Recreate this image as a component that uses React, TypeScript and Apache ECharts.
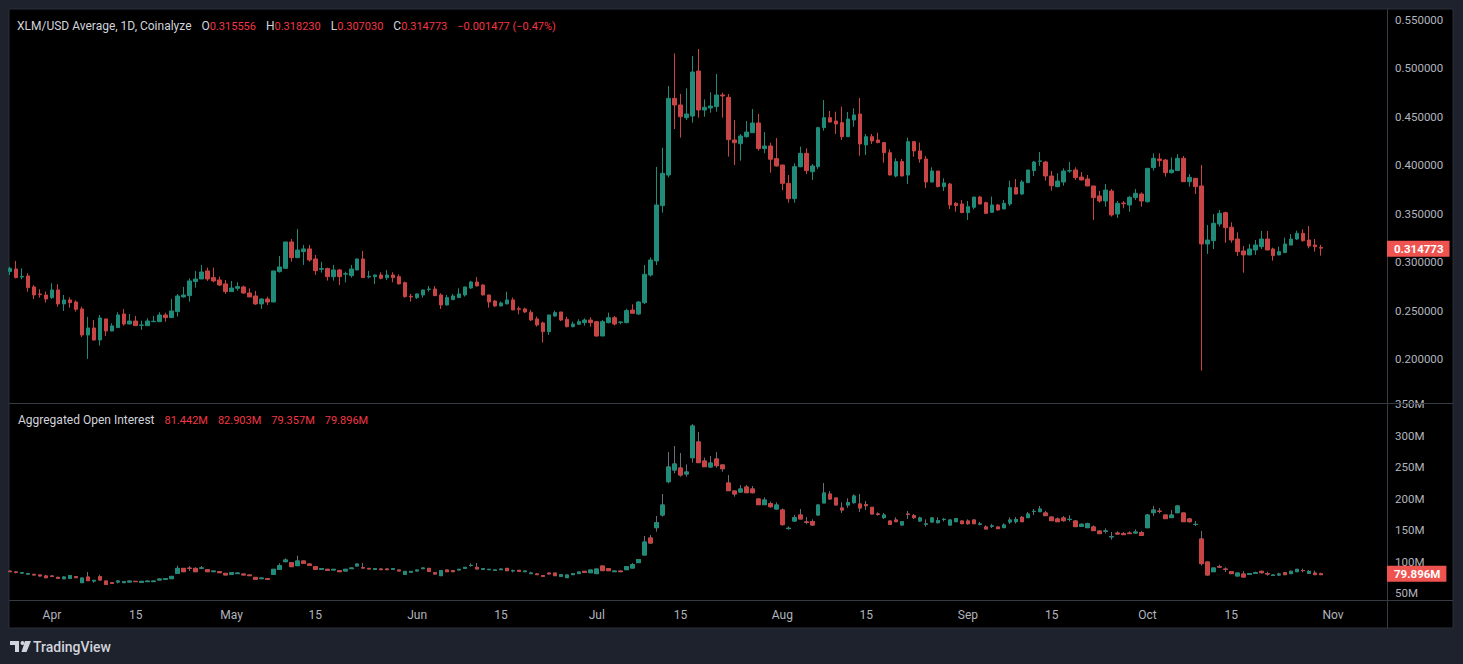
import React, { useEffect, useRef } from "react";
import * as echarts from "echarts";

// ---------- data ----------
const START_DATE = [2025, 2, 25]; // 25 Mar 2025 (UTC, month 0-based)
const END_DATE = [2025, 10, 10]; // 10 Nov 2025

// XLM/USD daily candles: [open, high, low, close]
const priceOHLC: number[][] = [
  [0.2906, 0.2957, 0.2871, 0.294], [0.2933, 0.3016, 0.2837, 0.2844], [0.285, 0.294, 0.2827, 0.2857],
  [0.2861, 0.2889, 0.27, 0.2741], [0.2748, 0.2768, 0.2624, 0.2665], [0.2675, 0.2724, 0.2638, 0.2668],
  [0.2665, 0.27, 0.2586, 0.2624], [0.2638, 0.2786, 0.2624, 0.2717], [0.2717, 0.2775, 0.2545, 0.2573],
  [0.2573, 0.2665, 0.25, 0.2614], [0.2614, 0.2641, 0.2535, 0.2586], [0.2593, 0.261, 0.2494, 0.2518],
  [0.2521, 0.2545, 0.2232, 0.2253], [0.2253, 0.2439, 0.2006, 0.2325], [0.2325, 0.2408, 0.2195, 0.2201],
  [0.2201, 0.2459, 0.2143, 0.2428], [0.2418, 0.2421, 0.2243, 0.2294], [0.2294, 0.2373, 0.229, 0.2346],
  [0.2329, 0.2487, 0.2325, 0.2459], [0.2469, 0.2521, 0.2349, 0.2366], [0.2366, 0.2469, 0.2363, 0.2397],
  [0.2397, 0.2449, 0.2346, 0.2349], [0.2352, 0.2401, 0.2305, 0.2356], [0.2349, 0.2425, 0.2346, 0.2397],
  [0.239, 0.2449, 0.2387, 0.2394], [0.239, 0.2487, 0.2387, 0.2459], [0.2459, 0.2483, 0.239, 0.2432],
  [0.2432, 0.2624, 0.2432, 0.25], [0.2494, 0.2676, 0.2442, 0.2655], [0.2645, 0.2748, 0.2638, 0.2665],
  [0.2658, 0.2837, 0.2597, 0.281], [0.2803, 0.2913, 0.2741, 0.283], [0.283, 0.2975, 0.283, 0.2902],
  [0.2913, 0.2947, 0.281, 0.283], [0.2844, 0.2947, 0.2796, 0.281], [0.282, 0.2854, 0.2758, 0.2768],
  [0.2779, 0.282, 0.2676, 0.27], [0.27, 0.281, 0.2697, 0.2737], [0.2734, 0.2796, 0.271, 0.2751],
  [0.2748, 0.2762, 0.2676, 0.2686], [0.2686, 0.2734, 0.2642, 0.2645], [0.2655, 0.2707, 0.2562, 0.2573],
  [0.2573, 0.2631, 0.2521, 0.2624], [0.2624, 0.2648, 0.2562, 0.2593], [0.2593, 0.2913, 0.259, 0.2913],
  [0.2906, 0.3067, 0.2896, 0.2954], [0.294, 0.3212, 0.2937, 0.3212], [0.3212, 0.3243, 0.3009, 0.305],
  [0.305, 0.3346, 0.3047, 0.3129], [0.3112, 0.3181, 0.2975, 0.314], [0.314, 0.3181, 0.3009, 0.3026],
  [0.3036, 0.3078, 0.2872, 0.2916], [0.293, 0.3006, 0.2896, 0.2937], [0.2937, 0.2947, 0.2813, 0.2854],
  [0.2854, 0.2975, 0.2813, 0.2923], [0.2923, 0.2933, 0.2768, 0.2854], [0.288, 0.2906, 0.2796, 0.2885],
  [0.2865, 0.2975, 0.2844, 0.2933], [0.2923, 0.3043, 0.292, 0.3036], [0.3036, 0.3119, 0.284, 0.2844],
  [0.2851, 0.2913, 0.2837, 0.2858], [0.2854, 0.2875, 0.2779, 0.2871], [0.2871, 0.2899, 0.2827, 0.2837],
  [0.2844, 0.2923, 0.282, 0.2871], [0.2871, 0.2899, 0.2796, 0.2844], [0.2854, 0.2878, 0.2775, 0.2779],
  [0.2792, 0.2803, 0.2638, 0.2648], [0.2652, 0.2676, 0.2597, 0.2645], [0.2638, 0.2683, 0.2624, 0.2676],
  [0.2665, 0.272, 0.2638, 0.2717], [0.2723, 0.2758, 0.27, 0.2727], [0.2727, 0.2758, 0.2655, 0.2658],
  [0.2665, 0.2683, 0.2521, 0.2562], [0.2562, 0.2665, 0.2559, 0.2638], [0.2617, 0.2676, 0.2614, 0.2655],
  [0.2638, 0.2734, 0.2635, 0.2676], [0.2665, 0.2751, 0.2648, 0.2748], [0.2737, 0.281, 0.2727, 0.2799],
  [0.2799, 0.2851, 0.2755, 0.2758], [0.2768, 0.2775, 0.2662, 0.2665], [0.2665, 0.2668, 0.2535, 0.2593],
  [0.2603, 0.2614, 0.2542, 0.2552], [0.2552, 0.2597, 0.2549, 0.2583], [0.2573, 0.27, 0.257, 0.2614],
  [0.2614, 0.2638, 0.2508, 0.2511], [0.2524, 0.2545, 0.2466, 0.2518], [0.2521, 0.2535, 0.248, 0.249],
  [0.2487, 0.2511, 0.2397, 0.2408], [0.2418, 0.2442, 0.2339, 0.2356], [0.2377, 0.239, 0.2174, 0.2287],
  [0.2287, 0.2459, 0.2253, 0.2459], [0.2448, 0.2504, 0.2441, 0.2483], [0.249, 0.249, 0.2397, 0.2407],
  [0.2414, 0.2441, 0.2332, 0.2338], [0.2338, 0.239, 0.2332, 0.2366], [0.2363, 0.2414, 0.2356, 0.239],
  [0.238, 0.2424, 0.2349, 0.2407], [0.2407, 0.2435, 0.2338, 0.238], [0.239, 0.2397, 0.2236, 0.2242],
  [0.2242, 0.2407, 0.2242, 0.239], [0.238, 0.2483, 0.2373, 0.2431], [0.2431, 0.2448, 0.2349, 0.2366],
  [0.2383, 0.239, 0.2363, 0.2387], [0.238, 0.2524, 0.2373, 0.2504], [0.251, 0.2569, 0.2476, 0.2476],
  [0.2469, 0.2603, 0.2459, 0.2593], [0.2586, 0.2974, 0.2572, 0.2878], [0.2871, 0.3053, 0.2854, 0.3026],
  [0.3016, 0.3985, 0.2974, 0.3593], [0.3586, 0.4184, 0.3514, 0.3919], [0.3902, 0.482, 0.3878, 0.4692],
  [0.4692, 0.5156, 0.4376, 0.4624], [0.4624, 0.4737, 0.4287, 0.4503], [0.4493, 0.4796, 0.4469, 0.4531],
  [0.451, 0.5129, 0.4442, 0.4964], [0.4974, 0.5201, 0.4493, 0.4572], [0.4572, 0.4682, 0.4503, 0.46],
  [0.4593, 0.4754, 0.4544, 0.4613], [0.4607, 0.4943, 0.4555, 0.4727], [0.4727, 0.4751, 0.4493, 0.4717],
  [0.4703, 0.4737, 0.4091, 0.4266], [0.4263, 0.4469, 0.4005, 0.4235], [0.4225, 0.4325, 0.405, 0.4304],
  [0.4297, 0.4459, 0.4287, 0.4345], [0.4338, 0.4582, 0.4338, 0.4438], [0.4438, 0.4531, 0.4153, 0.4174],
  [0.4174, 0.4345, 0.4126, 0.4201], [0.4201, 0.4235, 0.3926, 0.4064], [0.4071, 0.4283, 0.3988, 0.3995],
  [0.4005, 0.4005, 0.3747, 0.3816], [0.3816, 0.3902, 0.3617, 0.3658], [0.3658, 0.4023, 0.3617, 0.3988],
  [0.3988, 0.4194, 0.3981, 0.4125], [0.4125, 0.4177, 0.3912, 0.3947], [0.3936, 0.4016, 0.3851, 0.3995],
  [0.3988, 0.44, 0.3964, 0.439], [0.439, 0.4675, 0.4359, 0.4493], [0.4493, 0.4562, 0.4445, 0.4448],
  [0.4459, 0.4555, 0.4325, 0.4428], [0.4442, 0.4607, 0.4263, 0.4297], [0.4297, 0.4552, 0.4294, 0.4479],
  [0.4469, 0.4589, 0.44, 0.4521], [0.4531, 0.4696, 0.4101, 0.4222], [0.4212, 0.4325, 0.4108, 0.4297],
  [0.4297, 0.4325, 0.4222, 0.4253], [0.4263, 0.4339, 0.4229, 0.4236], [0.4236, 0.4236, 0.4029, 0.4132],
  [0.4132, 0.4167, 0.3898, 0.3902], [0.3892, 0.4074, 0.3878, 0.404], [0.404, 0.4067, 0.3888, 0.3892],
  [0.3902, 0.4287, 0.3809, 0.4246], [0.4246, 0.425, 0.4091, 0.415], [0.415, 0.4236, 0.4029, 0.4067],
  [0.4067, 0.4098, 0.3768, 0.383], [0.383, 0.3981, 0.3823, 0.3943], [0.3943, 0.3943, 0.3775, 0.3782],
  [0.3782, 0.3868, 0.3737, 0.382], [0.3809, 0.382, 0.3552, 0.3593], [0.361, 0.3624, 0.3524, 0.3586],
  [0.3603, 0.3644, 0.3512, 0.3514], [0.3514, 0.3634, 0.3438, 0.3576], [0.3569, 0.3675, 0.3548, 0.3675],
  [0.3675, 0.3686, 0.36, 0.3603], [0.3617, 0.3627, 0.35, 0.3507], [0.3517, 0.3679, 0.3514, 0.3593],
  [0.3593, 0.3603, 0.3534, 0.3541], [0.3552, 0.3644, 0.3548, 0.361], [0.3603, 0.3844, 0.3582, 0.3772],
  [0.3772, 0.3861, 0.3703, 0.3706], [0.3706, 0.3851, 0.3696, 0.383], [0.3823, 0.3954, 0.382, 0.3954],
  [0.3947, 0.4047, 0.3892, 0.4036], [0.4043, 0.4139, 0.3995, 0.4047], [0.4036, 0.4047, 0.3844, 0.3892],
  [0.3892, 0.3943, 0.3741, 0.3792], [0.3782, 0.3919, 0.3775, 0.384], [0.383, 0.3971, 0.3792, 0.3943],
  [0.3943, 0.4036, 0.3926, 0.3947], [0.3954, 0.3981, 0.3851, 0.3875], [0.3881, 0.3933, 0.3847, 0.3851],
  [0.3861, 0.3902, 0.3786, 0.3789], [0.3789, 0.3789, 0.3438, 0.3669], [0.3686, 0.3737, 0.3617, 0.3634],
  [0.3634, 0.3809, 0.3576, 0.3747], [0.3737, 0.3758, 0.3473, 0.349], [0.35, 0.3634, 0.3459, 0.361],
  [0.3613, 0.3634, 0.3558, 0.3606], [0.3593, 0.3686, 0.3524, 0.3672], [0.3669, 0.3758, 0.3644, 0.3713],
  [0.3706, 0.3723, 0.3576, 0.3634], [0.3627, 0.3971, 0.3617, 0.3971], [0.3978, 0.4125, 0.3947, 0.4074],
  [0.4067, 0.4125, 0.3988, 0.405], [0.4057, 0.4067, 0.3885, 0.3926], [0.3926, 0.4084, 0.3919, 0.3954],
  [0.3947, 0.4118, 0.3947, 0.4074], [0.4074, 0.4098, 0.3833, 0.3833], [0.3833, 0.3912, 0.3782, 0.3878],
  [0.3868, 0.3868, 0.3706, 0.3782], [0.3789, 0.4005, 0.1885, 0.3191], [0.3191, 0.3387, 0.3088, 0.3232],
  [0.3225, 0.35, 0.3139, 0.3404], [0.3397, 0.3541, 0.337, 0.3507], [0.3514, 0.3524, 0.3204, 0.3359],
  [0.3363, 0.3414, 0.3204, 0.3232], [0.3242, 0.3311, 0.3067, 0.3112], [0.3119, 0.317, 0.2895, 0.3078],
  [0.3078, 0.3191, 0.3075, 0.3139], [0.3129, 0.3232, 0.3078, 0.318], [0.3163, 0.3325, 0.3139, 0.3242],
  [0.3242, 0.3325, 0.3126, 0.3129], [0.3139, 0.3153, 0.3019, 0.3071], [0.3078, 0.3163, 0.3075, 0.3112],
  [0.3102, 0.3256, 0.31, 0.3191], [0.318, 0.3294, 0.3177, 0.3242], [0.3242, 0.3328, 0.3232, 0.3301],
  [0.3301, 0.3342, 0.3215, 0.3225], [0.3232, 0.3376, 0.3146, 0.317], [0.318, 0.3242, 0.3112, 0.31625],
  [0.315556, 0.31823, 0.30703, 0.314773],
];

// Aggregated open interest, millions: [open, high, low, close]
const oiOHLC: number[][] = [
  [85.5, 86.0, 84.4, 84.6], [84.1, 85.5, 82.0, 83.6], [82.5, 83.6, 81.5, 83.0], [80.9, 83.0, 79.9, 81.5],
  [80.4, 81.0, 78.8, 79.4], [79.4, 79.9, 77.2, 77.8], [77.8, 79.4, 74.1, 75.1], [77.8, 78.3, 76.7, 77.2],
  [75.6, 76.7, 73.5, 74.1], [73.4, 77.0, 73.0, 76.2], [74.1, 78.8, 73.8, 78.3], [76.7, 77.2, 74.6, 75.1],
  [67.2, 74.8, 67.0, 74.6], [76.2, 84.1, 70.0, 70.4], [69.8, 71.4, 67.2, 70.9], [76.7, 79.9, 71.0, 71.4],
  [69.8, 70.2, 64.3, 64.5], [67.2, 67.7, 65.8, 66.1], [68.2, 71.4, 66.1, 69.8], [67.2, 69.3, 66.6, 68.8],
  [68.2, 70.4, 67.7, 69.8], [69.3, 69.8, 68.2, 68.8], [67.7, 69.8, 67.2, 69.3], [68.8, 70.0, 68.5, 69.8],
  [68.8, 70.0, 68.5, 69.8], [71.4, 73.5, 71.0, 73.0], [72.5, 74.1, 72.0, 73.5], [73.5, 77.5, 73.0, 77.2],
  [82.0, 94.2, 81.8, 89.9], [89.9, 90.4, 84.4, 84.6], [90.2, 93.6, 85.7, 89.9], [89.9, 91.5, 84.1, 84.6],
  [90.2, 93.6, 88.4, 90.5], [87.8, 88.4, 84.4, 84.6], [84.6, 85.7, 84.1, 85.7], [84.6, 85.1, 82.5, 83.0],
  [82.0, 82.5, 79.2, 79.4], [80.4, 83.6, 80.0, 83.0], [81.5, 83.6, 81.2, 82.5], [80.9, 81.2, 79.2, 79.4],
  [79.4, 79.9, 78.0, 78.3], [75.6, 76.2, 72.2, 72.5], [73.5, 74.8, 73.0, 74.6], [73.5, 74.1, 72.2, 72.5],
  [80.4, 88.6, 80.0, 88.4], [88.4, 97.9, 87.8, 94.2], [100.5, 105.8, 99.5, 103.2], [98.9, 99.5, 92.3, 92.6],
  [94.2, 110.1, 94.0, 101.6], [101.6, 102.0, 97.6, 97.9], [96.8, 97.9, 94.4, 94.7], [92.6, 93.0, 88.0, 88.4],
  [88.4, 90.0, 88.0, 89.4], [88.4, 89.0, 86.5, 86.8], [87.3, 88.9, 87.0, 88.4], [86.2, 86.8, 84.4, 84.6],
  [85.7, 88.6, 85.5, 88.4], [89.4, 91.0, 89.0, 90.5], [93.6, 97.5, 93.3, 96.8], [91.0, 98.4, 89.4, 90.5],
  [89.9, 90.2, 88.6, 88.9], [88.4, 89.6, 88.0, 89.4], [88.9, 89.4, 87.5, 87.8], [88.9, 89.4, 87.5, 87.8],
  [88.4, 89.6, 88.0, 89.4], [87.3, 87.6, 85.5, 85.7], [80.4, 85.5, 80.0, 85.1], [83.6, 85.5, 83.3, 85.1],
  [85.7, 87.6, 85.5, 87.3], [89.4, 91.2, 89.0, 90.5], [89.9, 90.2, 84.9, 85.1], [83.0, 83.3, 80.7, 80.9],
  [78.3, 86.5, 78.0, 86.3], [87.3, 87.6, 84.4, 84.6], [86.2, 86.5, 84.4, 84.6], [87.3, 88.6, 87.0, 88.4],
  [89.9, 91.8, 89.6, 91.5], [94.4, 97.9, 92.6, 94.7], [91.5, 98.4, 88.6, 88.9], [88.4, 89.6, 88.0, 89.4],
  [87.8, 88.8, 87.5, 88.4], [86.8, 87.6, 86.5, 87.3], [87.8, 89.2, 87.5, 88.9], [89.9, 90.5, 86.0, 86.2],
  [86.0, 88.0, 83.6, 86.4], [86.8, 87.0, 85.0, 85.2], [84.6, 85.9, 84.4, 85.7], [81.5, 84.6, 81.0, 82.5],
  [81.0, 82.5, 79.4, 79.9], [78.3, 78.5, 77.0, 77.2], [82.5, 82.8, 80.8, 81.0], [82.5, 82.8, 78.0, 78.3],
  [77.2, 80.2, 77.0, 79.9], [75.1, 79.6, 74.8, 79.4], [79.9, 82.0, 79.6, 81.5], [81.5, 84.4, 81.2, 84.1],
  [85.2, 85.5, 83.4, 83.6], [83.0, 87.6, 82.8, 87.3], [81.5, 89.2, 81.2, 88.9], [93.6, 93.9, 86.0, 86.3],
  [89.4, 89.6, 86.0, 86.2], [84.6, 85.9, 84.4, 85.7], [85.7, 85.9, 84.4, 84.6], [87.8, 92.8, 87.5, 92.6],
  [90.4, 98.4, 90.2, 95.8], [99.0, 104.0, 98.8, 103.7], [111.1, 141.3, 110.8, 131.7], [138.1, 142.9, 129.0, 130.1],
  [154.5, 173.0, 148.1, 162.4], [174.6, 207.9, 172.0, 190.5], [227.5, 274.6, 224.9, 250.8], [246.0, 284.1, 240.7, 255.6],
  [249.2, 273.0, 235.4, 238.1], [239.7, 255.0, 235.4, 242.9], [265.6, 319.0, 257.7, 315.9], [290.5, 306.3, 257.7, 257.7],
  [260.3, 265.6, 251.0, 251.3], [250.8, 268.3, 249.7, 257.1], [263.5, 274.6, 249.7, 252.9], [254.0, 255.0, 243.4, 248.1],
  [225.4, 238.1, 213.0, 213.2], [212.7, 213.0, 203.7, 207.9], [211.1, 222.2, 210.0, 215.9], [219.0, 222.2, 209.8, 210.0],
  [215.9, 220.6, 209.0, 210.0], [200.0, 201.0, 190.8, 191.0], [191.0, 202.6, 190.5, 198.4], [192.6, 195.8, 186.2, 187.8],
  [184.1, 194.7, 183.1, 190.5], [182.5, 185.2, 157.7, 159.3], [153.0, 156.5, 151.3, 153.6], [165.1, 174.6, 164.0, 170.4],
  [174.6, 184.1, 168.0, 168.3], [163.5, 171.4, 159.8, 163.0], [164.0, 167.7, 157.7, 158.7], [174.6, 191.5, 173.5, 190.5],
  [193.7, 225.4, 193.5, 209.5], [207.9, 212.7, 199.0, 200.0], [201.6, 202.0, 190.2, 190.5], [185.7, 194.7, 177.8, 182.5],
  [190.5, 201.1, 186.2, 194.2], [194.2, 207.4, 192.6, 204.8], [192.1, 207.9, 179.4, 185.7], [191.0, 196.8, 182.5, 189.4],
  [186.8, 187.0, 176.0, 176.2], [176.2, 178.8, 173.5, 175.7], [170.4, 177.8, 168.3, 174.6], [165.1, 165.5, 159.5, 159.8],
  [166.7, 170.9, 163.8, 164.0], [158.7, 164.2, 158.5, 164.0], [176.0, 180.9, 168.3, 175.7], [173.6, 176.2, 168.3, 170.4],
  [165.1, 172.0, 163.5, 169.9], [160.0, 167.7, 156.1, 160.3], [163.5, 170.9, 162.4, 169.9], [162.4, 170.9, 161.4, 165.6],
  [167.4, 169.9, 164.5, 167.7], [158.7, 166.9, 158.5, 166.7], [164.0, 169.0, 163.8, 168.8], [165.1, 165.5, 160.5, 160.8],
  [165.1, 167.7, 159.3, 160.8], [166.7, 167.7, 160.5, 160.8], [160.0, 163.5, 158.2, 160.3], [155.6, 158.2, 152.2, 152.4],
  [156.9, 160.3, 154.0, 157.1], [155.6, 155.9, 152.6, 152.9], [154.5, 161.4, 154.3, 158.7], [163.5, 170.9, 160.3, 166.7],
  [164.0, 171.5, 161.0, 167.5], [170.9, 173.0, 163.5, 164.0], [170.4, 179.4, 169.9, 176.2], [180.2, 184.1, 174.6, 180.4],
  [179.9, 188.9, 179.6, 184.1], [177.8, 181.0, 173.4, 173.6], [171.4, 171.6, 165.4, 165.6], [168.3, 170.9, 163.5, 164.0],
  [169.9, 173.0, 164.0, 165.6], [167.5, 174.1, 164.5, 167.7], [165.1, 166.7, 155.9, 156.1], [156.6, 161.4, 156.1, 159.8],
  [154.5, 162.4, 154.3, 160.8], [155.6, 158.2, 149.6, 149.8], [149.2, 149.4, 144.8, 145.0], [149.0, 153.4, 145.5, 149.2],
  [140.0, 147.6, 135.4, 140.2], [146.0, 148.7, 143.4, 144.4], [145.0, 147.6, 143.2, 143.4], [146.0, 148.7, 144.8, 145.0],
  [146.0, 151.9, 145.0, 147.6], [146.6, 149.2, 142.0, 142.3], [154.5, 176.2, 153.5, 174.6], [178.3, 188.9, 173.0, 182.5],
  [180.6, 185.7, 177.3, 180.4], [174.6, 174.9, 168.5, 168.8], [170.4, 182.5, 170.2, 174.6], [178.3, 190.5, 177.2, 188.9],
  [177.8, 178.0, 163.8, 164.0], [168.3, 169.9, 162.4, 164.0], [159.5, 165.1, 157.1, 159.8], [136.5, 149.2, 94.2, 97.4],
  [100.0, 100.2, 78.3, 79.4], [84.6, 90.7, 84.4, 90.5], [92.3, 95.8, 90.5, 92.0], [88.6, 91.5, 84.1, 88.4],
  [84.6, 84.9, 81.3, 81.5], [77.8, 82.8, 77.6, 82.5], [80.9, 85.7, 75.7, 76.2], [80.4, 82.5, 80.2, 81.5],
  [82.0, 84.6, 81.0, 83.0], [85.2, 86.3, 81.8, 83.0], [81.5, 84.6, 78.3, 81.0], [78.8, 79.6, 78.6, 79.4],
  [79.4, 83.0, 77.8, 80.9], [83.0, 84.1, 79.2, 79.9], [81.5, 86.3, 81.0, 85.2], [84.6, 88.6, 84.4, 88.4],
  [86.5, 89.4, 83.6, 86.3], [82.0, 87.3, 81.5, 85.2], [82.5, 86.3, 79.9, 79.9], [81.442, 82.903, 79.357, 79.896],
];

const PRICE_TICKS = [0.2, 0.25, 0.3, 0.35, 0.4, 0.45, 0.5, 0.55];
const OI_TICKS = [50, 100, 150, 200, 250, 300, 350];
const MONTHS = ["Jan", "Feb", "Mar", "Apr", "May", "Jun", "Jul", "Aug", "Sep", "Oct", "Nov", "Dec"];

// ---------- style ----------
const UP = "#1f8b78";
const DOWN = "#c94444";
const TAG = "#ef5350";
const VALUE_RED = "#f23645";
const WICK_GREY = "#6b6e78";
const TEXT = "#d1d4dc";
const AXIS_TEXT = "#b2b5be";
const LINE = "#363a45";
const FONT = "Roboto, 'Noto Sans', sans-serif";

function buildDates(): string[] {
  const out: string[] = [];
  let t = Date.UTC(START_DATE[0], START_DATE[1], START_DATE[2]);
  const end = Date.UTC(END_DATE[0], END_DATE[1], END_DATE[2]);
  while (t <= end) {
    out.push(new Date(t).toISOString().slice(0, 10));
    t += 86400000;
  }
  return out;
}

const fmtSigned = (v: number, d: number) => (v < 0 ? "\u2212" : "+") + Math.abs(v).toFixed(d);

export default function App() {
  const ref = useRef<HTMLDivElement>(null);

  useEffect(() => {
    if (!ref.current) return;
    const chart = echarts.init(ref.current, undefined, { renderer: "svg" });
    const dates = buildDates();

    const priceData = priceOHLC.map(([o, h, l, c]) => [o, c, l, h]);
    const oiWick = oiOHLC.map(([o, h, l, c]) => [o, c, l, h]);
    const oiBody = oiOHLC.map(([o, , , c]) => [o, c, Math.min(o, c), Math.max(o, c)]);

    const last = priceOHLC[priceOHLC.length - 1];
    const prevClose = priceOHLC[priceOHLC.length - 2][3];
    const chg = last[3] - prevClose;
    const pct = (chg / prevClose) * 100;
    const lastOi = oiOHLC[oiOHLC.length - 1];

    const priceHeader =
      "{l|XLM/USD Average, 1D, Coinalyze}  " +
      `{l|O}{v|${last[0].toFixed(6)}}  {l|H}{v|${last[1].toFixed(6)}}  {l|L}{v|${last[2].toFixed(6)}}  {l|C}{v|${last[3].toFixed(6)}}  ` +
      `{v|${fmtSigned(chg, 6)} (${fmtSigned(pct, 2)}%)}`;
    const oiHeader =
      "{l|Aggregated Open Interest}  " +
      lastOi.map((v) => `{v|${v.toFixed(3)}M}`).join("  ");

    const rich = {
      l: { color: TEXT, fontSize: 12, fontFamily: FONT, fontWeight: "normal" },
      v: { color: VALUE_RED, fontSize: 11, fontFamily: FONT, fontWeight: "normal" },
    };

    const xAxisBase = {
      type: "category" as const,
      data: dates,
      boundaryGap: false,
      axisLine: { show: false },
      axisTick: { show: false },
      splitLine: { show: false },
    };

    const tagLabel = (text: string, dy: number) => ({
      show: true,
      position: "end",
      formatter: text,
      color: "#ffffff",
      backgroundColor: TAG,
      padding: [1, 6, 1, 7],
      lineHeight: 14,
      fontFamily: FONT,
      fontSize: 11.5,
      fontWeight: "bold",
      distance: 0,
      offset: [0, dy],
      opacity: 1,
    });

    chart.setOption({
      animation: false,
      backgroundColor: "#1e222d",
      title: [
        { left: 17, top: 17, padding: 0, text: priceHeader, textStyle: { fontWeight: "normal", rich } },
        { left: 18, top: 411, padding: 0, text: oiHeader, textStyle: { fontWeight: "normal", rich } },
      ],
      grid: [
        { left: 10, top: 10, width: 1377, height: 393 },
        { left: 10, top: 404, width: 1377, height: 196 },
      ],
      xAxis: [
        { ...xAxisBase, gridIndex: 0, axisLabel: { show: false } },
        {
          ...xAxisBase,
          gridIndex: 1,
          axisLabel: {
            show: true,
            interval: (_i: number, v: string) => {
              const d = Number(v.slice(8, 10));
              return d === 1 || d === 15;
            },
            formatter: (v: string) => {
              const d = Number(v.slice(8, 10));
              return d === 1 ? MONTHS[Number(v.slice(5, 7)) - 1] : String(d);
            },
            color: AXIS_TEXT,
            fontFamily: FONT,
            fontSize: 12,
            margin: 9,
          },
        },
      ],
      yAxis: [
        {
          type: "value",
          gridIndex: 0,
          position: "right",
          min: 0.15515,
          max: 0.56031,
          splitLine: { show: false },
          axisLine: { show: false },
          axisTick: { show: false },
          axisLabel: {
            customValues: PRICE_TICKS,
            formatter: (v: number) => v.toFixed(6),
            color: AXIS_TEXT,
            fontFamily: FONT,
            fontSize: 11.5,
            margin: 8,
          },
        },
        {
          type: "value",
          gridIndex: 1,
          position: "right",
          min: 39.68,
          max: 350.79,
          splitLine: { show: false },
          axisLine: { show: false },
          axisTick: { show: false },
          axisLabel: {
            customValues: OI_TICKS,
            formatter: (v: number) => `${v}M`,
            color: AXIS_TEXT,
            fontFamily: FONT,
            fontSize: 11.5,
            margin: 8,
          },
        },
      ],
      series: [
        {
          type: "candlestick",
          name: "XLM/USD",
          xAxisIndex: 0,
          yAxisIndex: 0,
          data: priceData,
          barWidth: 4,
          itemStyle: { color: UP, color0: DOWN, borderColor: UP, borderColor0: DOWN, borderWidth: 1 },
          markLine: {
            silent: true,
            z: 20,
            symbol: ["none", "none"],
            data: [{ yAxis: last[3] }],
            lineStyle: { color: "rgba(0,0,0,0)", width: 1, type: "solid" },
            label: tagLabel(last[3].toFixed(6), -4),
          },
        },
        {
          type: "candlestick",
          name: "OI wick",
          xAxisIndex: 1,
          yAxisIndex: 1,
          data: oiWick,
          barWidth: 4,
          itemStyle: {
            color: WICK_GREY,
            color0: WICK_GREY,
            borderColor: WICK_GREY,
            borderColor0: WICK_GREY,
            borderWidth: 1,
          },
          markLine: {
            silent: true,
            z: 20,
            symbol: ["none", "none"],
            data: [{ yAxis: lastOi[3] }],
            lineStyle: { color: "rgba(0,0,0,0)", width: 1, type: "solid" },
            label: tagLabel(`${lastOi[3].toFixed(3)}M`, -1),
          },
        },
        {
          type: "candlestick",
          name: "OI",
          xAxisIndex: 1,
          yAxisIndex: 1,
          z: 3,
          data: oiBody,
          barWidth: 4,
          itemStyle: { color: UP, color0: DOWN, borderColor: UP, borderColor0: DOWN, borderWidth: 1 },
        },
      ],
      graphic: [
        {
          type: "rect",
          z: -10,
          shape: { x: 9, y: 9, width: 1444, height: 619 },
          style: { fill: "#000000", stroke: "#2a2e39", lineWidth: 1 },
        },
        { type: "line", z: 10, shape: { x1: 9, y1: 403.5, x2: 1453, y2: 403.5 }, style: { stroke: LINE, lineWidth: 1 } },
        { type: "line", z: 10, shape: { x1: 9, y1: 600.5, x2: 1453, y2: 600.5 }, style: { stroke: LINE, lineWidth: 1 } },
        { type: "line", z: 10, shape: { x1: 1387.5, y1: 9, x2: 1387.5, y2: 628 }, style: { stroke: LINE, lineWidth: 1 } },
        // TradingView logo
        { type: "rect", z: 10, shape: { x: 10, y: 641, width: 9, height: 4 }, style: { fill: TEXT } },
        { type: "rect", z: 10, shape: { x: 15, y: 641, width: 4, height: 11 }, style: { fill: TEXT } },
        { type: "circle", z: 10, shape: { cx: 22.5, cy: 643, r: 2 }, style: { fill: TEXT } },
        {
          type: "polygon",
          z: 10,
          shape: { points: [[25, 641], [31, 641], [26.5, 652], [21.5, 652]] },
          style: { fill: TEXT },
        },
        {
          type: "text",
          z: 10,
          x: 33,
          y: 646.5,
          style: {
            text: "TradingView",
            fill: TEXT,
            font: `500 14px ${FONT}`,
            verticalAlign: "middle",
          },
        },
      ],
    });

    return () => chart.dispose();
  }, []);

  return (
    <div
      ref={ref}
      style={{ position: "fixed", left: 0, top: 0, width: 1463, height: 664 }}
    />
  );
}
